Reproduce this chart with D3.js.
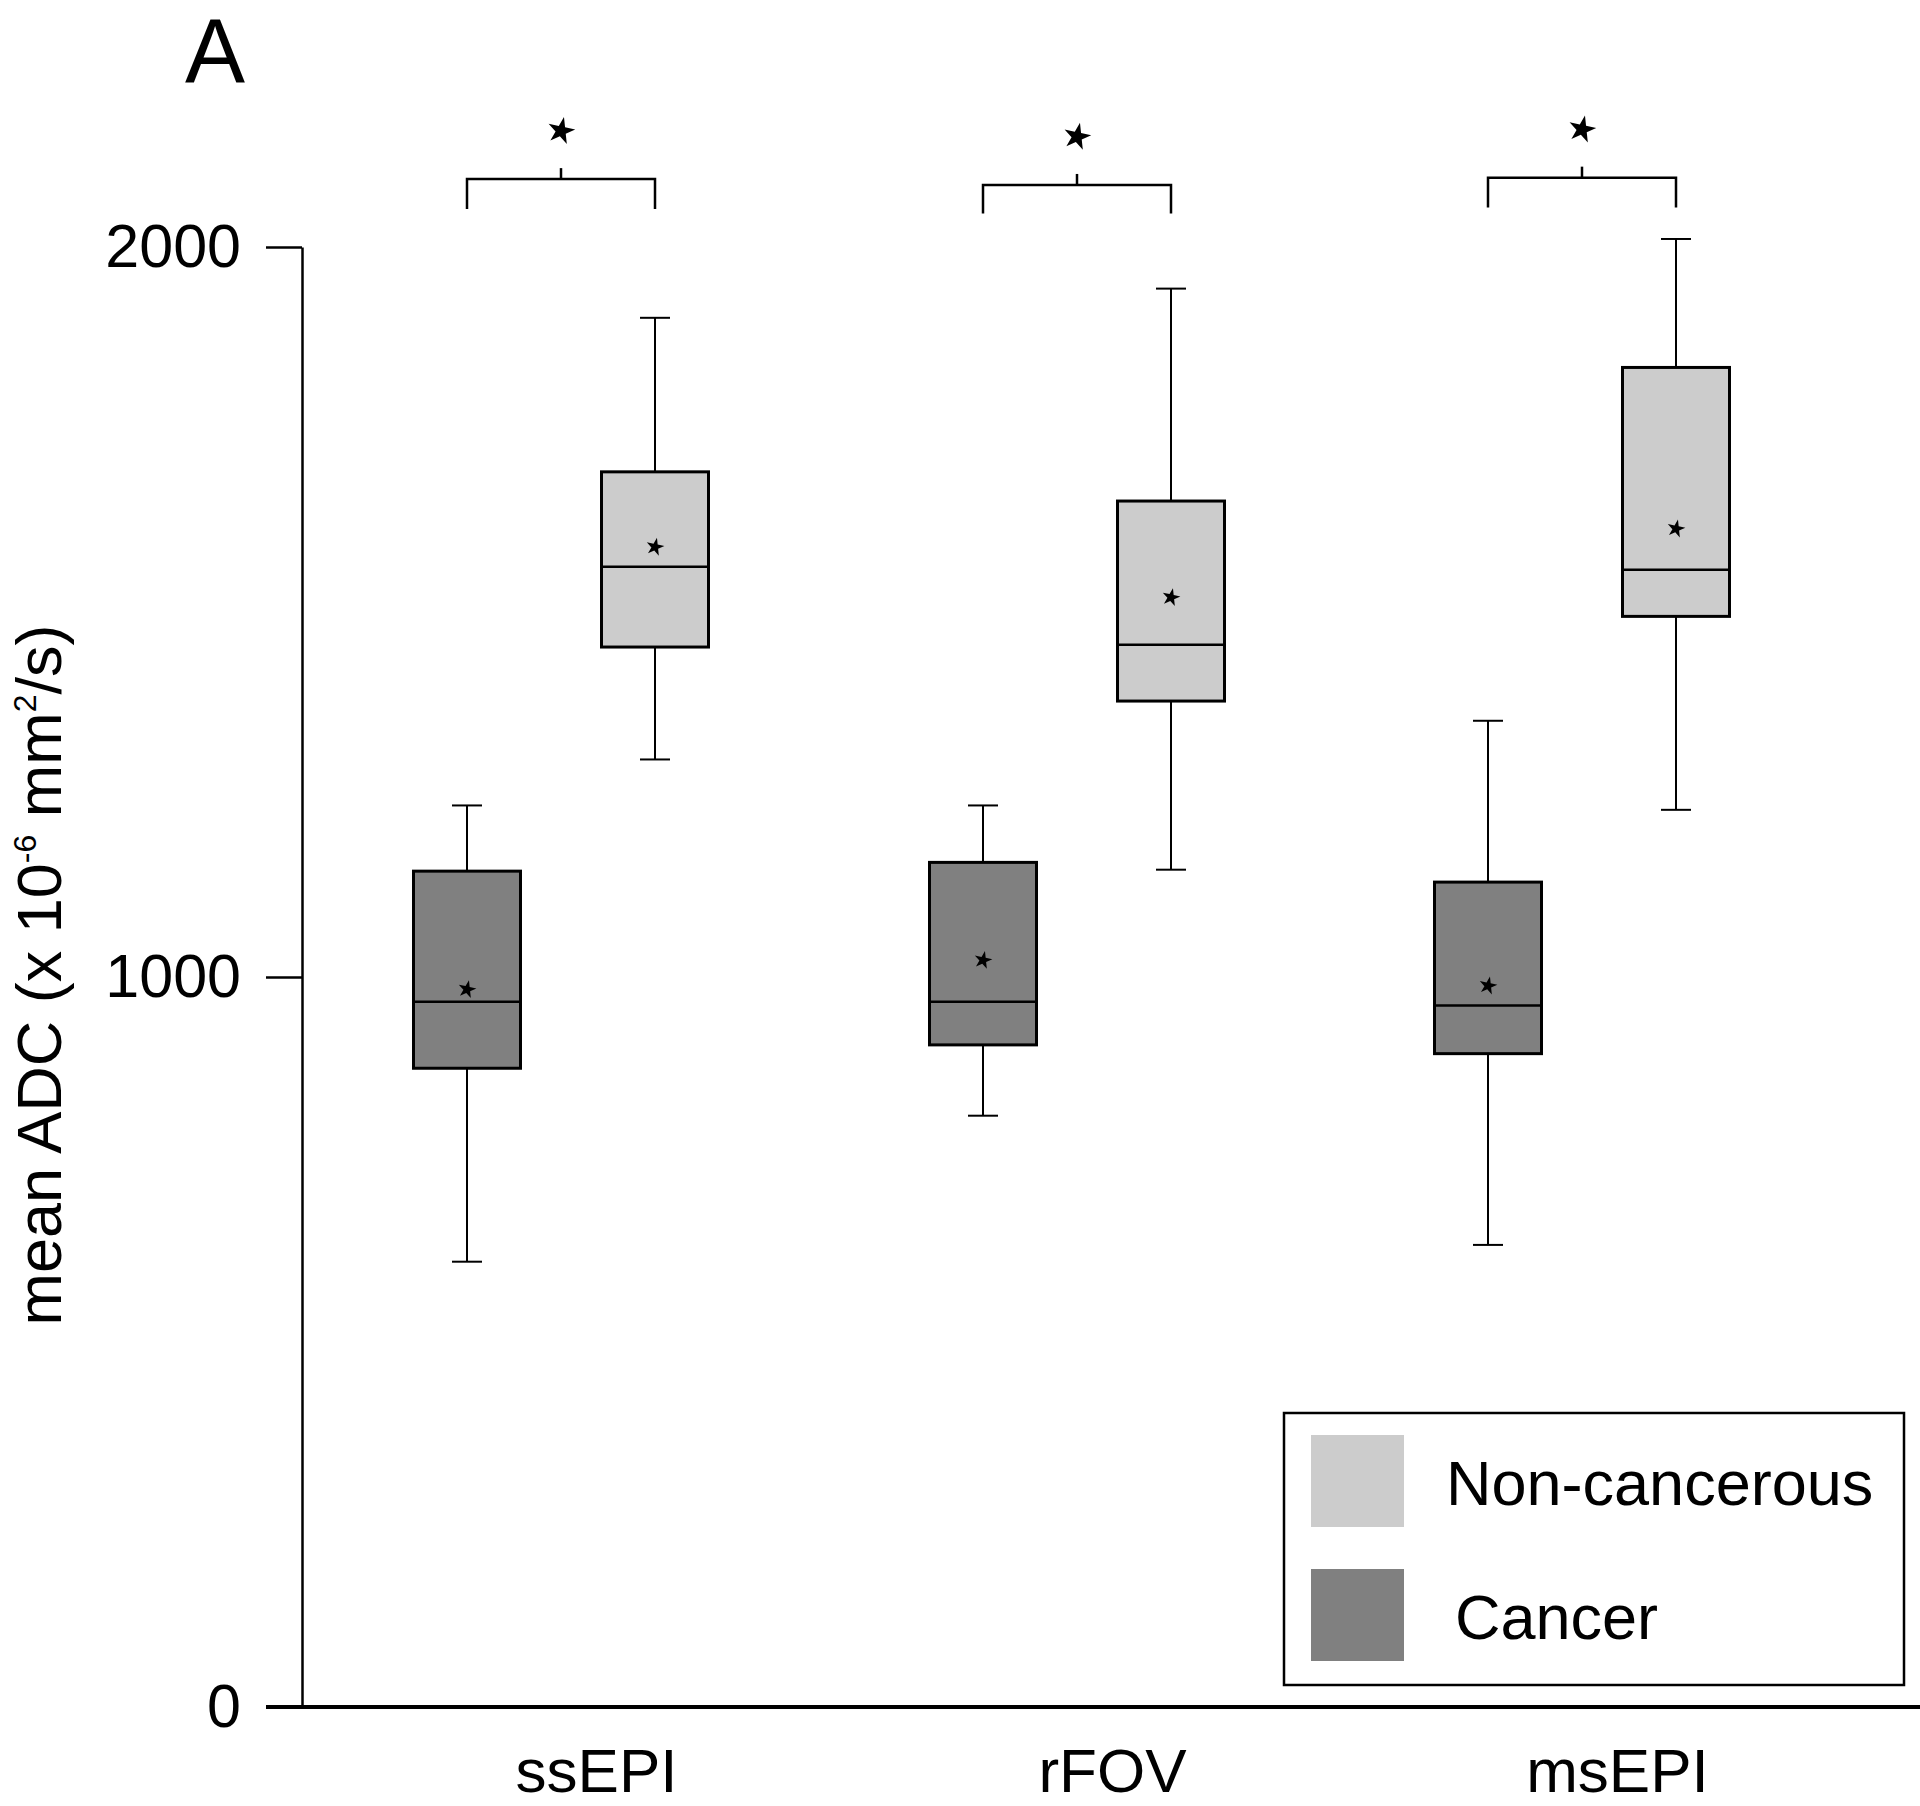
<!DOCTYPE html>
<html>
<head>
<meta charset="utf-8">
<script src="https://cdn.jsdelivr.net/npm/d3@7"></script>
<style>
    body { margin: 0; background: #fff; }
    text { font-family: "Liberation Sans", Arial, sans-serif; fill: #000; }
</style>
</head>
<body>
<div id="d3-container"></div>
<script>
const methods = ["ssEPI", "rFOV", "msEPI"];
const methodCenters = [561, 1077, 1582];
const groups = ["Cancer", "Non-cancerous"];
const groupColors = ["#808080", "#cccccc"];

const cancerMin = [610, 810, 633];
const cancerQ1 = [875, 907, 895];
const cancerMedian = [966, 966, 961];
const cancerMean = [983, 1023, 988];
const cancerQ3 = [1145, 1157, 1130];
const cancerMax = [1235, 1235, 1351];

const nonMin = [1298, 1147, 1229];
const nonQ1 = [1452, 1378, 1494];
const nonMedian = [1562, 1455, 1558];
const nonMean = [1589, 1520, 1614];
const nonQ3 = [1692, 1652, 1835];
const nonMax = [1903, 1943, 2011];

const yTicks = [0, 1000, 2000];

// significance brackets (value units)
const bracketTop = [2093, 2085, 2095];
const bracketBottom = [2052, 2046, 2054];
const starLevel = [2159, 2151, 2161];

const boxes = methods.flatMap((m, i) => [
    { method: m, group: groups[0], min: cancerMin[i], q1: cancerQ1[i], median: cancerMedian[i], mean: cancerMean[i], q3: cancerQ3[i], max: cancerMax[i] },
    { method: m, group: groups[1], min: nonMin[i], q1: nonQ1[i], median: nonMedian[i], mean: nonMean[i], q3: nonQ3[i], max: nonMax[i] }
]);

    const width = 1920;
    const height = 1806;
    const margin = {top: 247, bottom: 99, left: 302, right: 0};

    const svg = d3.select('#d3-container')
        .append('svg')
        .attr('width', width)
        .attr('height', height)
        .attr("viewBox", [0, 0, width, height]);

    const x = d3.scaleOrdinal()
        .domain(methods)
        .range(methodCenters);

    const xg = d3.scalePoint()
        .domain(groups)
        .range([-94, 94]);

    const color = d3.scaleOrdinal()
        .domain(groups)
        .range(groupColors);

    const y = d3.scaleLinear()
        .domain([0, 2000])
        .range([height - margin.bottom, margin.top]);

    const boxW = 107;
    const capW = 30;
    const cx = d => x(d.method) + xg(d.group);

    const g = svg.append("g")
        .selectAll("g")
        .data(boxes)
        .join("g");

    g.append("line")
        .attr("x1", cx).attr("x2", cx)
        .attr("y1", d => y(d.max)).attr("y2", d => y(d.q3))
        .attr("stroke", "#000").attr("stroke-width", 2);
    g.append("line")
        .attr("x1", cx).attr("x2", cx)
        .attr("y1", d => y(d.q1)).attr("y2", d => y(d.min))
        .attr("stroke", "#000").attr("stroke-width", 2);
    g.append("line")
        .attr("x1", d => cx(d) - capW / 2).attr("x2", d => cx(d) + capW / 2)
        .attr("y1", d => y(d.max)).attr("y2", d => y(d.max))
        .attr("stroke", "#000").attr("stroke-width", 2);
    g.append("line")
        .attr("x1", d => cx(d) - capW / 2).attr("x2", d => cx(d) + capW / 2)
        .attr("y1", d => y(d.min)).attr("y2", d => y(d.min))
        .attr("stroke", "#000").attr("stroke-width", 2);

    g.append("rect")
        .attr("x", d => cx(d) - boxW / 2)
        .attr("y", d => y(d.q3))
        .attr("width", boxW)
        .attr("height", d => y(d.q1) - y(d.q3))
        .attr("fill", d => color(d.group))
        .attr("stroke", "#000")
        .attr("stroke-width", 3);

    g.append("line")
        .attr("x1", d => cx(d) - boxW / 2).attr("x2", d => cx(d) + boxW / 2)
        .attr("y1", d => y(d.median)).attr("y2", d => y(d.median))
        .attr("stroke", "#000").attr("stroke-width", 2.5);

    g.append("path")
        .attr("d", d3.symbol(d3.symbolStar, 100))
        .attr("transform", d => `translate(${cx(d)},${y(d.mean)}) rotate(12)`)
        .attr("fill", "#000");

    // brackets
    const br = svg.append("g")
        .selectAll("g")
        .data(methods)
        .join("g");

    br.append("path")
        .attr("d", (m, i) => {
            const x0 = x(m) + xg(groups[0]);
            const x1 = x(m) + xg(groups[1]);
            return `M${x0},${y(bracketBottom[i])}V${y(bracketTop[i])}H${x1}V${y(bracketBottom[i])}`;
        })
        .attr("fill", "none")
        .attr("stroke", "#000")
        .attr("stroke-width", 2.5);

    br.append("line")
        .attr("x1", m => x(m)).attr("x2", m => x(m))
        .attr("y1", (m, i) => y(bracketTop[i]))
        .attr("y2", (m, i) => y(bracketTop[i]) - 11)
        .attr("stroke", "#000").attr("stroke-width", 2.5);

    br.append("path")
        .attr("d", d3.symbol(d3.symbolStar, 230))
        .attr("transform", (m, i) => `translate(${x(m)},${y(starLevel[i])}) rotate(12)`)
        .attr("fill", "#000");

    function yAxis(g) {
        g.attr("transform", `translate(${margin.left}, 0)`)
            .call(d3.axisLeft(y).tickValues(yTicks).tickFormat(d3.format("d"))
                .tickSize(36).tickSizeOuter(0).tickPadding(25))
            .attr("font-size", '61px')
            .attr("font-family", '"Liberation Sans", Arial, sans-serif');
        g.selectAll("path, line").attr("stroke", "#000").attr("stroke-width", 2.5);
        g.selectAll("text").attr("fill", "#000");
    }

    function xAxis(g) {
        g.attr("transform", `translate(0,${y(0)})`)
            .call(d3.axisBottom(x).tickSize(0).tickPadding(41))
            .attr("font-size", '62px')
            .attr("font-family", '"Liberation Sans", Arial, sans-serif');
        g.select(".domain").remove();
        g.selectAll("text").attr("fill", "#000").attr("dx", 35);
    }

    svg.append("line")
        .attr("x1", margin.left - 36)
        .attr("x2", width)
        .attr("y1", y(0))
        .attr("y2", y(0))
        .attr("stroke", "#000")
        .attr("stroke-width", 4);

    svg.append("g").call(xAxis);
    svg.append("g").call(yAxis);

    const title = svg.append("text")
        .attr("transform", `translate(61, ${y(1000) - 2}) rotate(-90)`)
        .attr("text-anchor", "middle")
        .attr("font-size", 63);
    title.append("tspan").text("mean ADC (x 10");
    title.append("tspan").attr("font-size", 32).attr("dy", -25).text("-6");
    title.append("tspan").attr("dy", 25).text("  mm");
    title.append("tspan").attr("font-size", 32).attr("dy", -25).text("2");
    title.append("tspan").attr("dy", 25).text("/s)");

    svg.append("text")
        .attr("x", 185)
        .attr("y", 82)
        .attr("font-size", 90)
        .text("A");

    // legend
    const legend = svg.append("g").attr("transform", "translate(1284,1413)");
    legend.append("rect")
        .attr("width", 620)
        .attr("height", 272)
        .attr("fill", "#fff")
        .attr("stroke", "#000")
        .attr("stroke-width", 2.5);

    const li = legend.selectAll("g")
        .data(groups.slice().reverse())
        .join("g")
        .attr("transform", (d, i) => `translate(0, ${i * 134})`);
    li.append("rect")
        .attr("x", 27)
        .attr("y", 22)
        .attr("width", 93)
        .attr("height", 92)
        .attr("fill", d => color(d));
    li.append("text")
        .attr("x", (d, i) => i ? 171 : 162)
        .attr("y", 92)
        .attr("font-size", 63)
        .text(d => d);

    svg.node();
</script>
</body>
</html>
